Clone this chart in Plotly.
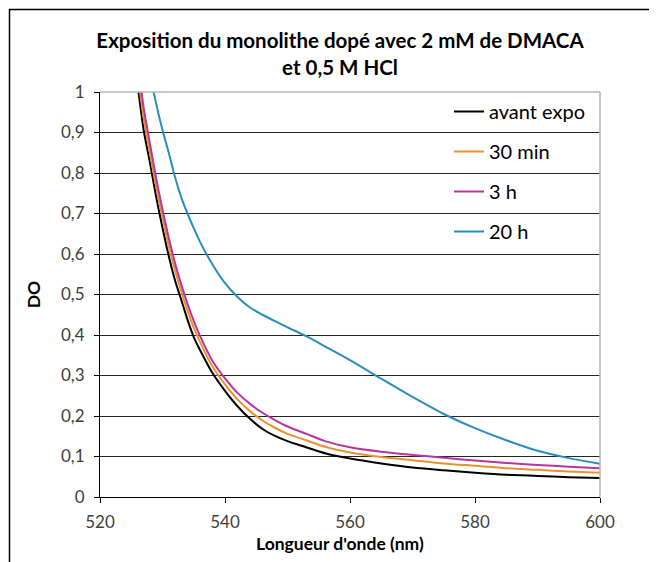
import plotly.graph_objects as go

# ---- data ----
wavelength = [526, 527, 528, 529, 530, 531, 532, 533, 534, 535, 536, 538, 540, 542, 544,
              546, 548, 550, 553, 556, 560, 565, 570, 575, 580, 585, 590, 595, 600]

avant_expo = [1.02, 0.905, 0.825, 0.74, 0.665, 0.595, 0.535, 0.487, 0.438, 0.395, 0.363,
              0.306, 0.262, 0.224, 0.193, 0.168, 0.151, 0.138, 0.123, 0.108, 0.095,
              0.083, 0.073, 0.066, 0.060, 0.055, 0.052, 0.049, 0.047]

min_30 = [1.05, 0.935, 0.85, 0.765, 0.69, 0.62, 0.56, 0.508, 0.46, 0.418, 0.383,
          0.322, 0.278, 0.241, 0.212, 0.189, 0.171, 0.156, 0.140, 0.124, 0.110,
          0.099, 0.091, 0.083, 0.077, 0.071, 0.067, 0.063, 0.060]

h_3 = [1.08, 0.96, 0.872, 0.786, 0.71, 0.64, 0.578, 0.525, 0.477, 0.435, 0.398,
       0.336, 0.293, 0.257, 0.230, 0.208, 0.190, 0.174, 0.156, 0.138, 0.123,
       0.112, 0.104, 0.097, 0.090, 0.084, 0.079, 0.075, 0.071]

h_20 = [1.22, 1.13, 1.045, 0.97, 0.906, 0.85, 0.79, 0.74, 0.70, 0.664, 0.630,
        0.574, 0.528, 0.494, 0.468, 0.450, 0.434, 0.419, 0.397, 0.372, 0.338,
        0.292, 0.247, 0.205, 0.170, 0.140, 0.114, 0.096, 0.082]

series_names = ["avant expo", "30 min", "3 h", "20 h"]
series_values = [avant_expo, min_30, h_3, h_20]
series_colors = ["#000000", "#E8922F", "#B8359E", "#2B8CBE"]

x_ticks = [520, 540, 560, 580, 600]
y_ticks = [0, 0.1, 0.2, 0.3, 0.4, 0.5, 0.6, 0.7, 0.8, 0.9, 1]
y_tick_labels = ["0", "0,1", "0,2", "0,3", "0,4", "0,5", "0,6", "0,7", "0,8", "0,9", "1"]

title_text = "<b>Exposition du monolithe dopé avec 2 mM de DMACA<br>et 0,5 M HCl</b>"
x_title = "<b>Longueur d'onde (nm)</b>"
y_title = "<b>DO</b>"

FONT = "Lato"

# plot area in figure pixels
L, R, T, B = 92, 592, 84, 489
PW, PH = R - L, B - T

fig = go.Figure()
for i, (name, vals, col) in enumerate(zip(series_names, series_values, series_colors)):
    fig.add_trace(go.Scatter(
        x=wavelength, y=vals, name=name, mode="lines",
        line=dict(color=col, width=2, shape="spline", smoothing=0.8),
        legendgroup=f"g{i}",
    ))

fig.update_layout(
    width=657, height=562,
    margin=dict(l=L, r=657 - R, t=T, b=562 - B),
    paper_bgcolor="white", plot_bgcolor="white",
    font=dict(family=FONT, color="#404040", size=17),
    title=dict(text=title_text, x=332 / 657, xref="container", xanchor="center",
               y=1 - 40 / 562, yref="container", yanchor="top",
               font=dict(family=FONT, size=20.5, color="#000000")),
    showlegend=True,
    legend=dict(x=(441 - L) / PW, xanchor="left", y=1.0, yanchor="top",
                bgcolor="rgba(0,0,0,0)", font=dict(family=FONT, size=20, color="#000000"),
                traceorder="grouped", tracegroupgap=11),
    xaxis=dict(range=[520, 600], tickvals=x_ticks, showgrid=False, zeroline=False,
               showline=True, linecolor="#000000", linewidth=1,
               ticks="outside", ticklen=5, tickcolor="#000000", ticklabelstandoff=5,
               tickfont=dict(family=FONT, size=17, color="#404040")),
    yaxis=dict(range=[0, 1], tickvals=y_ticks, ticktext=y_tick_labels,
               showgrid=True, gridcolor="#262626", gridwidth=1, zeroline=False,
               showline=True, linecolor="#000000", linewidth=1,
               ticks="outside", ticklen=5, tickcolor="#000000", ticklabelstandoff=6,
               tickfont=dict(family=FONT, size=17, color="#404040"),
               title=dict(text=y_title, font=dict(family=FONT, size=17.5, color="#000000"), standoff=15)),
)

# x-axis title (placed slightly left of plot centre, as in the reference)
fig.add_annotation(text=x_title, xref="paper", yref="paper",
                   x=(332 - L) / PW, y=(B - 535) / PH, xanchor="center", yanchor="middle",
                   showarrow=False, font=dict(family=FONT, size=17.5, color="#000000"))

# light grey top and right edges of plot area
fig.add_shape(type="line", xref="paper", yref="paper", x0=0, x1=1, y0=1, y1=1,
              line=dict(color="#b5b5b5", width=1.5), layer="above")
fig.add_shape(type="line", xref="paper", yref="paper", x0=1, x1=1, y0=0, y1=1,
              line=dict(color="#b5b5b5", width=1.5), layer="above")
# outer chart frame (left and top edges visible)
fig.add_shape(type="rect", xref="paper", yref="paper",
              x0=(1.5 - L) / PW, x1=1.5, y0=-0.5, y1=(B - 1.5) / PH,
              line=dict(color="#000000", width=1.5), layer="above")

fig.write_html("out.html")
